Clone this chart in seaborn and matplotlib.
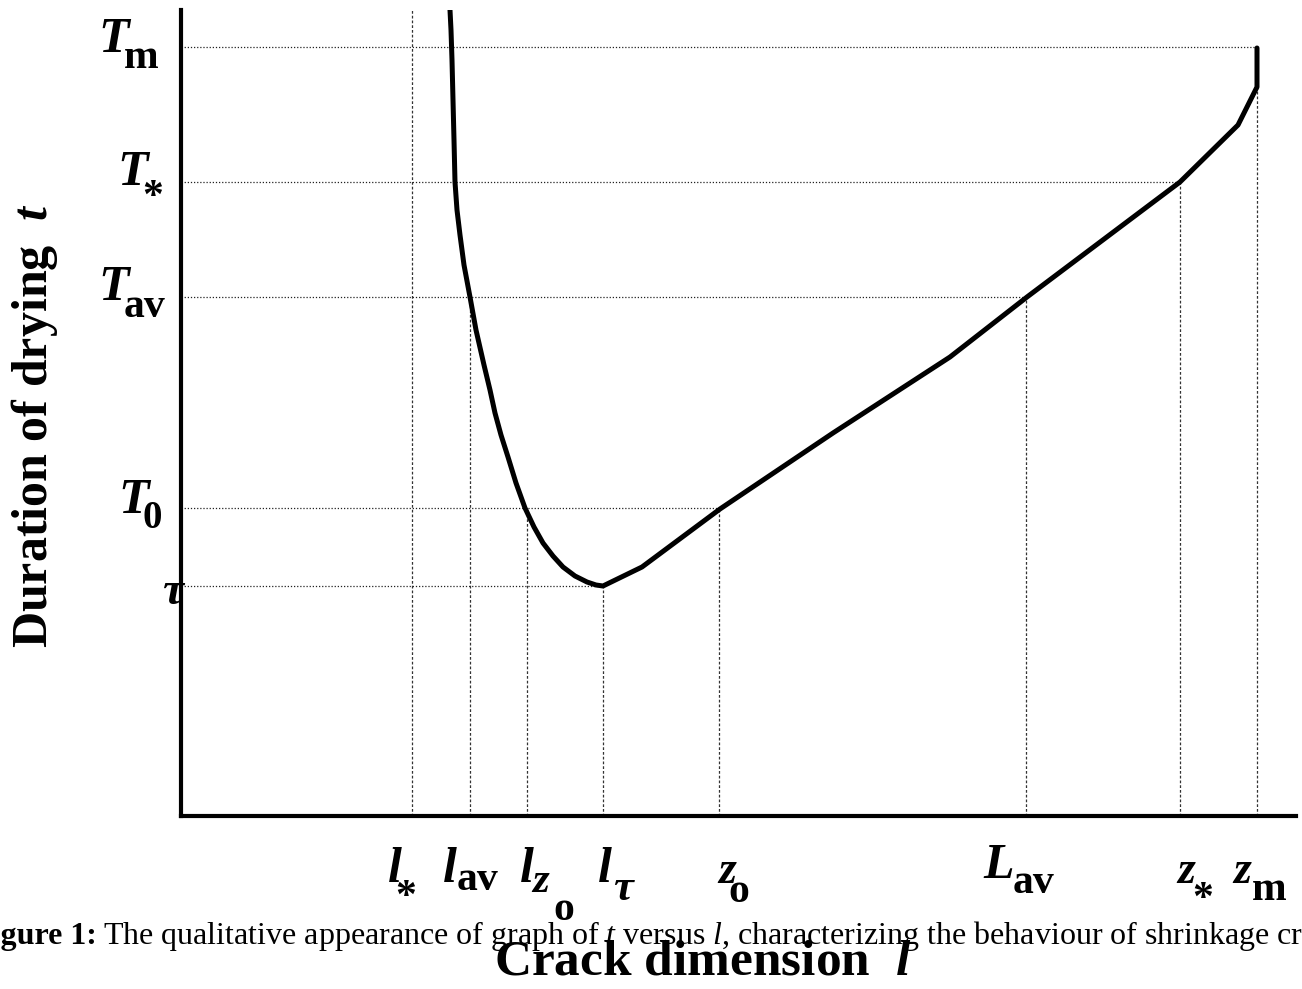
import numpy as np
import pandas as pd
import seaborn as sns
import matplotlib.pyplot as plt
from matplotlib.transforms import offset_copy

# t(l) curve
crack_l = [2.69, 2.70, 2.71, 2.72, 2.73, 2.74, 2.76, 2.79, 2.83, 2.89, 2.95, 3.03, 3.09,
           3.14, 3.20, 3.27, 3.35, 3.44, 3.53, 3.62, 3.72, 3.82, 3.94, 4.06, 4.15, 4.22,
           4.61, 5.39, 6.52, 7.69, 8.46, 9.99, 10.57, 10.76, 10.76]
dry_t = [8.06, 7.86, 7.56, 7.16, 6.76, 6.34, 6.06, 5.81, 5.51, 5.19, 4.86, 4.51, 4.26,
         4.03, 3.81, 3.59, 3.33, 3.08, 2.89, 2.73, 2.60, 2.49, 2.40, 2.34, 2.31, 2.30,
         2.49, 3.07, 3.83, 4.59, 5.19, 6.34, 6.91, 7.29, 7.68]

# marked values on the axes
l_names = ['l*', 'lav', 'lz0', 'ltau', 'z0', 'Lav', 'z*', 'zm']
l_vals = [2.31, 2.89, 3.46, 4.22, 5.38, 8.45, 9.99, 10.76]
t_names = ['Tm', 'T*', 'Tav', 'T0', 'tau']
t_vals = [7.69, 6.34, 5.19, 3.08, 2.30]

l_max = 11.15
t_max = 8.06

L = dict(zip(l_names, l_vals))
T = dict(zip(t_names, t_vals))

# horizontal guides: level -> where they stop
h_guides = [(T['Tm'], L['zm']), (T['T*'], L['z*']), (T['Tav'], L['Lav']),
            (T['T0'], L['z0']), (T['tau'], L['ltau'])]
# vertical guides: position -> height
v_guides = [(L['l*'], t_max), (L['lav'], T['Tav']), (L['lz0'], T['T0']),
            (L['ltau'], T['tau']), (L['z0'], T['T0']), (L['Lav'], T['Tav']),
            (L['z*'], T['T*']), (L['zm'], dry_t[-2])]

sns.set_theme(style='white')
plt.rcParams['font.family'] = ['Liberation Serif', 'DejaVu Serif']
plt.rcParams['text.color'] = 'black'
plt.rcParams['axes.labelcolor'] = 'black'
plt.rcParams['mathtext.fontset'] = 'custom'
plt.rcParams['mathtext.rm'] = 'Liberation Serif'
plt.rcParams['mathtext.it'] = 'Liberation Serif:italic'
plt.rcParams['mathtext.bf'] = 'Liberation Serif:bold'
plt.rcParams['mathtext.bfit'] = 'Liberation Serif:italic:bold'

fig = plt.figure(figsize=(13.02, 9.89), dpi=100)
ax = fig.add_axes([181 / 1302, 173 / 989, 1115 / 1302, 806 / 989])

for y, xe in h_guides:
    ax.plot([0, xe], [y, y], color='#222222', lw=0.9, ls=(0, (1, 1.5)), zorder=1)
for x, ye in v_guides:
    ax.plot([x, x], [0, ye], color='#333333', lw=0.9, ls=(0, (2.2, 1.6)), zorder=1)

df = pd.DataFrame({'l': crack_l, 't': dry_t})
sns.lineplot(data=df, x='l', y='t', sort=False, estimator=None, color='black',
             lw=3.6, ax=ax, zorder=3)

ax.set_xlim(0, l_max)
ax.set_ylim(0, t_max)
ax.set_xticks([])
ax.set_yticks([])
for s in ['top', 'right']:
    ax.spines[s].set_visible(False)
for s in ['left', 'bottom']:
    ax.spines[s].set_linewidth(3)
    ax.spines[s].set_color('black')
    ax.spines[s].set_capstyle('projecting')


def put(base, x, y, pieces):
    for txt, size, italic, dx, dy in pieces:
        tr = offset_copy(base, fig=fig, x=dx, y=dy, units='dots')
        ax.text(x, y, txt, transform=tr, fontsize=size, fontweight='bold',
                fontstyle='italic' if italic else 'normal', color='black',
                ha='left', va='baseline', clip_on=False)


# (text, size, italic, dx px, dy px)
t_labels = {
    'Tm': [('T', 36, True, -83, -5), ('m', 30, False, -57, -21)],
    'T*': [('T', 36, True, -64, -3), ('*', 30, False, -39, -26)],
    'Tav': [('T', 36, True, -83, -3), ('av', 30, False, -57, -20)],
    'T0': [('T', 36, True, -63, -5), ('0', 28, False, -38, -20)],
    'tau': [('τ', 34, True, -19, -18)],
}
l_labels = {
    'l*': [('l', 36, True, -24, -66), ('*', 30, False, -17, -92)],
    'lav': [('l', 36, True, -27, -66), ('av', 30, False, -13, -74)],
    'lz0': [('l', 36, True, -7, -66), ('z', 31, True, 5, -76), ('o', 30, False, 26, -104)],
    'ltau': [('l', 36, True, -5, -66), ('τ', 32, True, 10, -84)],
    'z0': [('z', 33, True, -1, -67), ('o', 30, False, 9, -86)],
    'Lav': [('L', 36, True, -43, -62), ('av', 30, False, -13, -77)],
    'z*': [('z', 33, True, -3, -67), ('*', 30, False, 12, -94)],
    'zm': [('z', 33, True, -24, -67), ('m', 30, False, -5, -84)],
}

for name, val in zip(t_names, t_vals):
    put(ax.get_yaxis_transform(), 0, val, t_labels[name])
for name, val in zip(l_names, l_vals):
    put(ax.get_xaxis_transform(), val, 0, l_labels[name])

ax.set_ylabel(r'Duration of drying  $\mathbfit{t}$', fontsize=36, fontweight='bold')
ax.yaxis.set_label_coords(-0.1085, 0.485)
ax.set_xlabel(r'Crack dimension  $\mathbfit{l}$', fontsize=37, fontweight='bold')
ax.xaxis.set_label_coords(0.468, -0.153)

# caption: bold lead-in, then the rest placed right after it
cap_y = 1 - 944 / 989
lead = fig.text(-28 / 1302, cap_y, 'Figure 1:', fontsize=23, fontweight='bold',
                ha='left', va='baseline')
fig.canvas.draw()
bb = lead.get_window_extent(fig.canvas.get_renderer())
fig.text((bb.x1 + 6) / 1302, cap_y,
         r'The qualitative appearance of graph of $t$ versus $l$, '
         r'characterizing the behaviour of shrinkage cracks.',
         fontsize=23, ha='left', va='baseline')

fig.savefig('out.png', dpi=100)
